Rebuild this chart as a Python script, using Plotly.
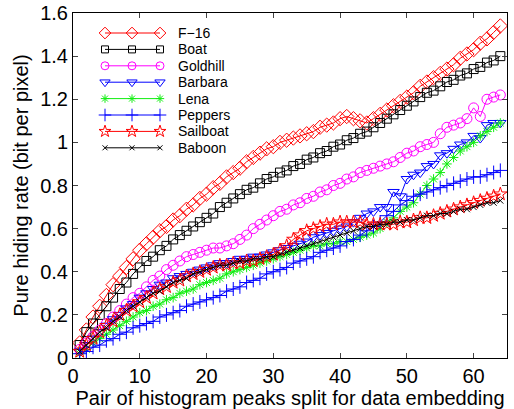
import plotly.graph_objects as go

x_pairs = list(range(1, 65))

f16 = [0.07, 0.13, 0.19, 0.24, 0.29, 0.34, 0.38, 0.42, 0.46, 0.50,
       0.53, 0.56, 0.59, 0.61, 0.64, 0.66, 0.69, 0.71, 0.74, 0.76,
       0.79, 0.81, 0.84, 0.86, 0.88, 0.91, 0.93, 0.95, 0.97, 0.98,
       1.00, 1.01, 1.02, 1.03, 1.04, 1.05, 1.07, 1.08, 1.09, 1.11,
       1.12, 1.11, 1.10, 1.09, 1.11, 1.13, 1.15, 1.17, 1.19, 1.21,
       1.23, 1.26, 1.28, 1.30, 1.32, 1.34, 1.36, 1.39, 1.41, 1.43,
       1.46, 1.48, 1.51, 1.54]
boat = [0.06, 0.12, 0.16, 0.20, 0.24, 0.28, 0.32, 0.35, 0.39, 0.42,
        0.45, 0.47, 0.50, 0.52, 0.55, 0.57, 0.59, 0.61, 0.63, 0.65,
        0.67, 0.70, 0.72, 0.74, 0.76, 0.78, 0.79, 0.81, 0.83, 0.84,
        0.86, 0.87, 0.89, 0.90, 0.92, 0.93, 0.95, 0.96, 0.98, 0.99,
        1.01, 1.02, 1.04, 1.05, 1.07, 1.09, 1.11, 1.13, 1.15, 1.17,
        1.19, 1.21, 1.23, 1.24, 1.26, 1.28, 1.29, 1.31, 1.32, 1.34,
        1.35, 1.37, 1.38, 1.40]
goldhill = [0.04, 0.07, 0.10, 0.13, 0.16, 0.19, 0.22, 0.25, 0.28, 0.30,
            0.33, 0.36, 0.38, 0.41, 0.43, 0.45, 0.47, 0.48, 0.49, 0.50,
            0.51, 0.51, 0.52, 0.53, 0.55, 0.57, 0.60, 0.62, 0.64, 0.66,
            0.68, 0.69, 0.71, 0.72, 0.74, 0.75, 0.77, 0.78, 0.80, 0.81,
            0.83, 0.84, 0.86, 0.87, 0.88, 0.89, 0.90, 0.91, 0.93, 0.95,
            0.96, 0.98, 0.99, 1.00, 1.04, 1.07, 1.08, 1.09, 1.11, 1.16,
            1.12, 1.20, 1.21, 1.22]
barbara = [0.03, 0.06, 0.09, 0.12, 0.15, 0.18, 0.20, 0.23, 0.25, 0.28,
           0.30, 0.32, 0.34, 0.35, 0.37, 0.38, 0.39, 0.40, 0.41, 0.42,
           0.43, 0.44, 0.44, 0.45, 0.46, 0.46, 0.47, 0.47, 0.48, 0.49,
           0.50, 0.51, 0.52, 0.53, 0.54, 0.56, 0.57, 0.58, 0.59, 0.60,
           0.61, 0.63, 0.65, 0.67, 0.68, 0.70, 0.70, 0.77, 0.75, 0.83,
           0.85, 0.86, 0.89, 0.90, 0.94, 0.95, 0.97, 0.99, 1.00, 1.03,
           1.02, 1.08, 1.09, 1.09]
lena = [0.02, 0.04, 0.07, 0.09, 0.11, 0.13, 0.15, 0.17, 0.19, 0.21,
        0.22, 0.24, 0.25, 0.27, 0.28, 0.30, 0.31, 0.32, 0.34, 0.35,
        0.36, 0.37, 0.39, 0.40, 0.41, 0.42, 0.43, 0.44, 0.45, 0.46,
        0.47, 0.48, 0.49, 0.50, 0.51, 0.52, 0.52, 0.53, 0.53, 0.54,
        0.54, 0.55, 0.56, 0.57, 0.58, 0.60, 0.63, 0.65, 0.68, 0.70,
        0.72, 0.76, 0.80, 0.83, 0.86, 0.90, 0.93, 0.96, 0.98, 1.00,
        1.03, 1.05, 1.07, 1.09]
peppers = [0.02, 0.03, 0.05, 0.06, 0.08, 0.09, 0.11, 0.12, 0.14, 0.15,
           0.16, 0.17, 0.19, 0.20, 0.21, 0.22, 0.24, 0.25, 0.26, 0.27,
           0.28, 0.29, 0.31, 0.32, 0.33, 0.35, 0.36, 0.37, 0.39, 0.40,
           0.41, 0.42, 0.44, 0.45, 0.46, 0.47, 0.49, 0.50, 0.51, 0.52,
           0.54, 0.55, 0.57, 0.59, 0.61, 0.63, 0.66, 0.68, 0.71, 0.73,
           0.75, 0.76, 0.77, 0.78, 0.79, 0.80, 0.81, 0.82, 0.83, 0.84,
           0.84, 0.85, 0.86, 0.87]
sailboat = [0.03, 0.06, 0.09, 0.12, 0.15, 0.17, 0.20, 0.22, 0.24, 0.26,
            0.28, 0.30, 0.32, 0.33, 0.35, 0.36, 0.38, 0.39, 0.40, 0.41,
            0.42, 0.43, 0.43, 0.44, 0.44, 0.45, 0.45, 0.46, 0.47, 0.48,
            0.50, 0.52, 0.55, 0.57, 0.59, 0.60, 0.61, 0.62, 0.62, 0.63,
            0.63, 0.63, 0.63, 0.62, 0.62, 0.62, 0.62, 0.62, 0.63, 0.63,
            0.64, 0.65, 0.65, 0.66, 0.67, 0.68, 0.69, 0.70, 0.71, 0.72,
            0.73, 0.74, 0.75, 0.76]
baboon = [0.03, 0.06, 0.09, 0.12, 0.14, 0.17, 0.19, 0.22, 0.24, 0.26,
          0.28, 0.30, 0.31, 0.33, 0.35, 0.36, 0.37, 0.39, 0.40, 0.41,
          0.42, 0.43, 0.43, 0.44, 0.45, 0.45, 0.46, 0.46, 0.47, 0.47,
          0.48, 0.49, 0.50, 0.51, 0.52, 0.53, 0.54, 0.55, 0.56, 0.57,
          0.58, 0.59, 0.60, 0.61, 0.61, 0.62, 0.62, 0.63, 0.63, 0.64,
          0.64, 0.65, 0.66, 0.66, 0.67, 0.67, 0.68, 0.69, 0.69, 0.70,
          0.71, 0.72, 0.72, 0.73]

names = ["F\u221216", "Boat", "Goldhill", "Barbara", "Lena", "Peppers", "Sailboat", "Baboon"]
series = [f16, boat, goldhill, barbara, lena, peppers, sailboat, baboon]
x_ticks = [0, 10, 20, 30, 40, 50, 60]
y_ticks = [0, 0.2, 0.4, 0.6, 0.8, 1, 1.2, 1.4, 1.6]
y_tick_text = ["0", "0.2", "0.4", "0.6", "0.8", "1", "1.2", "1.4", "1.6"]

colors = ["#ff0000", "#000000", "#ff00ff", "#0000ff", "#11ee11", "#0000ff", "#ff0000", "#000000"]
symbols = ["diamond-open", "square-open", "circle-open", "triangle-down-open",
           "asterisk-open", "cross-thin-open", "star-open", "x-thin-open"]
sizes = [11, 9, 10, 10, 8, 10, 10, 6]
leg_sizes = [9, 7, 8, 9, 7, 9, 9, 5]

fig = go.Figure()
for nm, ys, c, s, sz in zip(names, series, colors, symbols, sizes):
    fig.add_trace(go.Scatter(
        x=x_pairs, y=ys, name=nm, mode="lines+markers", showlegend=False,
        line=dict(color=c, width=1),
        marker=dict(symbol=s, size=sz, color=c, line=dict(color=c, width=1)),
    ))

# MATLAB-style legend (three markers per entry) drawn on a pixel-scaled overlay axis
PLOT_W, PLOT_H = 434, 345
row0, row_gap = 20, 16.4
sample_x = [32, 59, 87]
text_x = 104
annotations = []
for i, (nm, c, s, sz) in enumerate(zip(names, colors, symbols, leg_sizes)):
    yy = row0 + row_gap * i
    fig.add_trace(go.Scatter(
        x=sample_x, y=[yy] * len(sample_x), xaxis="x2", yaxis="y2",
        mode="lines+markers", showlegend=False, hoverinfo="skip",
        line=dict(color=c, width=1),
        marker=dict(symbol=s, size=sz, color=c, line=dict(color=c, width=1)),
    ))
    annotations.append(dict(x=text_x, y=yy, xref="x2", yref="y2", text=nm,
                            showarrow=False, xanchor="left", yanchor="middle",
                            borderpad=0, font=dict(size=14)))

font = "Liberation Sans, Arial, Helvetica, sans-serif"
fig.update_layout(
    width=514, height=409,
    margin=dict(l=73, r=7, t=13, b=51),
    paper_bgcolor="white", plot_bgcolor="white",
    font=dict(family=font, size=20, color="black"),
    showlegend=False,
    annotations=annotations,
    xaxis=dict(range=[0, 65], tickvals=x_ticks, automargin=False,
               ticks="inside", ticklen=5, showline=True, mirror="ticks",
               linecolor="black", linewidth=1, showgrid=False, zeroline=False,
               title=dict(text="Pair of histogram peaks split for data embedding",
                          standoff=2, font=dict(size=20)),
               tickfont=dict(size=20)),
    yaxis=dict(range=[0, 1.6], tickvals=y_ticks, ticktext=y_tick_text, automargin=False,
               ticks="inside", ticklen=5, showline=True, mirror="ticks",
               linecolor="black", linewidth=1, showgrid=False, zeroline=False,
               title=dict(text="Pure hiding rate (bit per pixel)", standoff=6,
                          font=dict(size=20)),
               tickfont=dict(size=20)),
    xaxis2=dict(overlaying="x", range=[0, PLOT_W], visible=False, fixedrange=True),
    yaxis2=dict(overlaying="y", range=[PLOT_H, 0], visible=False, fixedrange=True),
)

fig.write_html("out.html", config={"displayModeBar": False},
               post_script="document.body.style.margin='0';document.body.style.overflow='hidden';")
